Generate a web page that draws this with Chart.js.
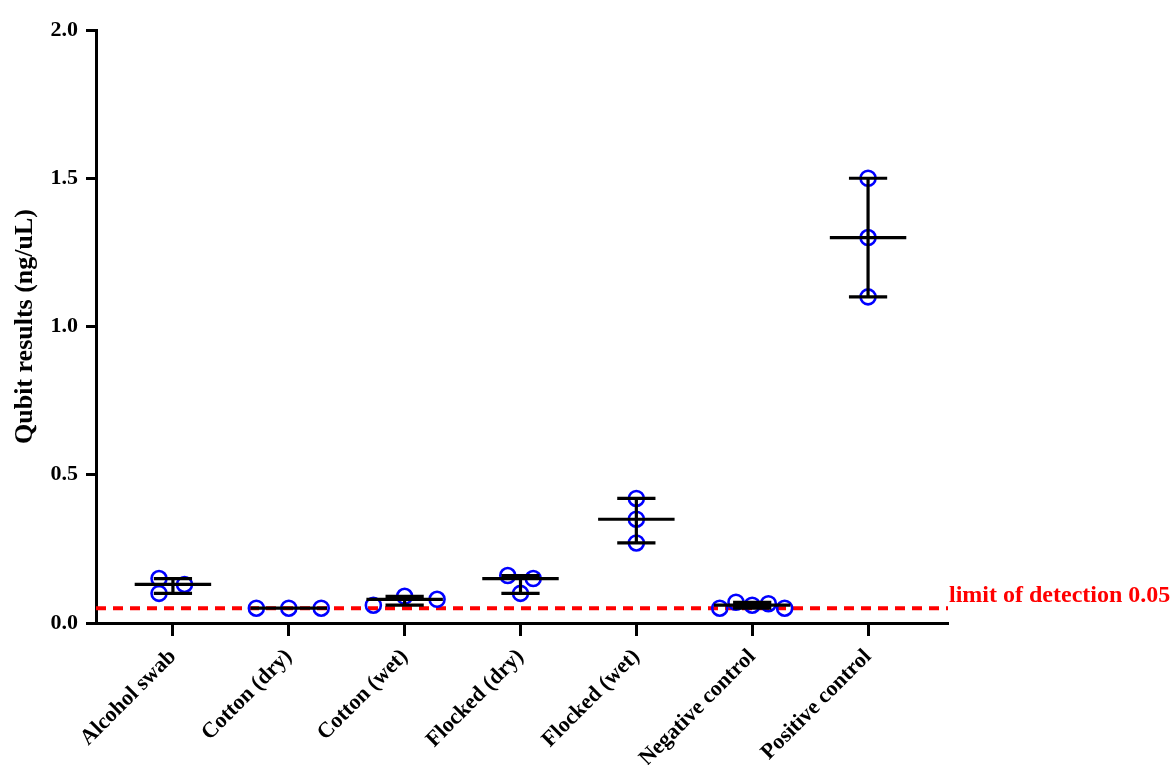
<!DOCTYPE html>
<html>
<head>
<meta charset="utf-8">
<title>Qubit results by swab type</title>
<script src="https://cdn.jsdelivr.net/npm/chart.js@4.4.1/dist/chart.umd.min.js"></script>
<style>
  html, body { margin: 0; padding: 0; background: #ffffff; }
  #wrap { width: 1174px; height: 765px; position: relative; }
</style>
</head>
<body>
<div id="wrap"><canvas id="chart"></canvas></div>
<script>
// Swab types on the x axis
const categories = ['Alcohol swab', 'Cotton (dry)', 'Cotton (wet)', 'Flocked (dry)', 'Flocked (wet)', 'Negative control', 'Positive control'];

// Replicate Qubit readings (ng/uL) for each swab type
const alcoholSwab     = [0.15, 0.10, 0.13];
const cottonDry       = [0.05, 0.05, 0.05];
const cottonWet       = [0.06, 0.09, 0.08];
const flockedDry      = [0.16, 0.10, 0.15];
const flockedWet      = [0.42, 0.35, 0.27];
const negativeControl = [0.05, 0.07, 0.06, 0.065, 0.05];
const positiveControl = [1.50, 1.30, 1.10];

// Median with range for each swab type
const medians = [0.13, 0.05, 0.08, 0.15, 0.35, 0.06, 1.30];
const lows    = [0.10, 0.05, 0.06, 0.10, 0.27, 0.05, 1.10];
const highs   = [0.15, 0.05, 0.09, 0.16, 0.42, 0.07, 1.50];

// Detection limit of the assay
const detectionLimit = 0.05;

// Y axis tick values
const yTicks = [0, 0.5, 1.0, 1.5, 2.0];

const groups = [alcoholSwab, cottonDry, cottonWet, flockedDry, flockedWet, negativeControl, positiveControl];

// Horizontal scatter of replicates within a column (category units)
const spread = [
  [-0.12, -0.12, 0.10],
  [-0.28, 0, 0.28],
  [-0.27, 0, 0.28],
  [-0.11, 0, 0.11],
  [0, 0, 0],
  [-0.28, -0.14, 0, 0.14, 0.28],
  [0, 0, 0]
];

const MEDIAN_HALF = 0.33;
const WHISKER_HALF = 0.165;
const X_MIN = -0.664;
const X_MAX = 6.69;
const FONT = "'Liberation Serif', 'Times New Roman', serif";

// Replicate points
const pointData = [];
groups.forEach((vals, i) => {
  vals.forEach((v, j) => pointData.push({ x: i + spread[i][j], y: v }));
});

// Median line, range caps and connecting stem, separated by gaps
const barData = [];
medians.forEach((m, i) => {
  barData.push({ x: i - MEDIAN_HALF, y: m }, { x: i + MEDIAN_HALF, y: m }, { x: i, y: null });
  barData.push({ x: i - WHISKER_HALF, y: highs[i] }, { x: i + WHISKER_HALF, y: highs[i] }, { x: i, y: null });
  barData.push({ x: i - WHISKER_HALF, y: lows[i] }, { x: i + WHISKER_HALF, y: lows[i] }, { x: i, y: null });
  barData.push({ x: i, y: lows[i] }, { x: i, y: highs[i] }, { x: i, y: null });
});

// Writes the detection-limit caption at the right end of the dashed line
const limitCaption = {
  id: 'limitCaption',
  afterDatasetsDraw(chart) {
    const { ctx, chartArea, scales } = chart;
    const y = scales.y.getPixelForValue(detectionLimit);
    ctx.save();
    ctx.fillStyle = '#ff0000';
    ctx.font = "bold 24px " + FONT;
    ctx.textAlign = 'left';
    ctx.textBaseline = 'alphabetic';
    ctx.fillText('limit of detection ' + detectionLimit.toFixed(2), chartArea.right + 1, y - 6);
    ctx.restore();
  }
};

new Chart(document.getElementById('chart'), {
  type: 'scatter',
  data: {
    datasets: [
      {
        label: 'Median with range',
        data: barData,
        showLine: true,
        spanGaps: false,
        borderColor: '#000000',
        borderWidth: 3.2,
        borderCapStyle: 'butt',
        pointRadius: 0,
        pointHoverRadius: 0,
        order: 1
      },
      {
        label: 'Replicates',
        data: pointData,
        pointStyle: 'circle',
        pointRadius: 7.5,
        pointHoverRadius: 7.5,
        pointBorderWidth: 2.6,
        borderColor: '#0000ff',
        backgroundColor: 'rgba(0,0,0,0)',
        order: 2
      },
      {
        label: 'Limit of detection',
        data: [{ x: X_MIN, y: detectionLimit }, { x: X_MAX, y: detectionLimit }],
        showLine: true,
        borderColor: '#ff0000',
        borderWidth: 4,
        borderDash: [10, 7],
        pointRadius: 0,
        pointHoverRadius: 0,
        order: 3
      }
    ]
  },
  options: {
    responsive: true,
    maintainAspectRatio: false,
    animation: false,
    layout: { padding: { top: 30, right: 226, left: 0, bottom: 0 } },
    plugins: {
      legend: { display: false },
      tooltip: { enabled: false },
      title: { display: false }
    },
    scales: {
      x: {
        type: 'linear',
        min: X_MIN,
        max: X_MAX,
        afterBuildTicks: (scale) => { scale.ticks = categories.map((_, i) => ({ value: i })); },
        afterFit: (scale) => { scale.height = 142; },
        ticks: {
          autoSkip: false,
          maxRotation: 45,
          minRotation: 45,
          padding: 8,
          color: '#000000',
          font: { family: FONT, size: 22, weight: 'bold' },
          callback: (v) => categories[v]
        },
        grid: {
          drawOnChartArea: false,
          drawTicks: true,
          tickLength: 13,
          tickWidth: 3,
          tickColor: '#000000'
        },
        border: { display: true, color: '#000000', width: 3 }
      },
      y: {
        min: 0,
        max: 2,
        afterBuildTicks: (scale) => { scale.ticks = yTicks.map(v => ({ value: v })); },
        afterFit: (scale) => { scale.width = 96; },
        ticks: {
          padding: 8,
          color: '#000000',
          font: { family: FONT, size: 22, weight: 'bold' },
          callback: (v) => Number(v).toFixed(1)
        },
        grid: {
          drawOnChartArea: false,
          drawTicks: true,
          tickLength: 10,
          tickWidth: 3,
          tickColor: '#000000'
        },
        border: { display: true, color: '#000000', width: 3 },
        title: {
          display: true,
          text: 'Qubit results (ng/uL)',
          color: '#000000',
          font: { family: FONT, size: 26, weight: 'bold' },
          padding: { top: 10, bottom: 0 }
        }
      }
    }
  },
  plugins: [limitCaption]
});
</script>
</body>
</html>
